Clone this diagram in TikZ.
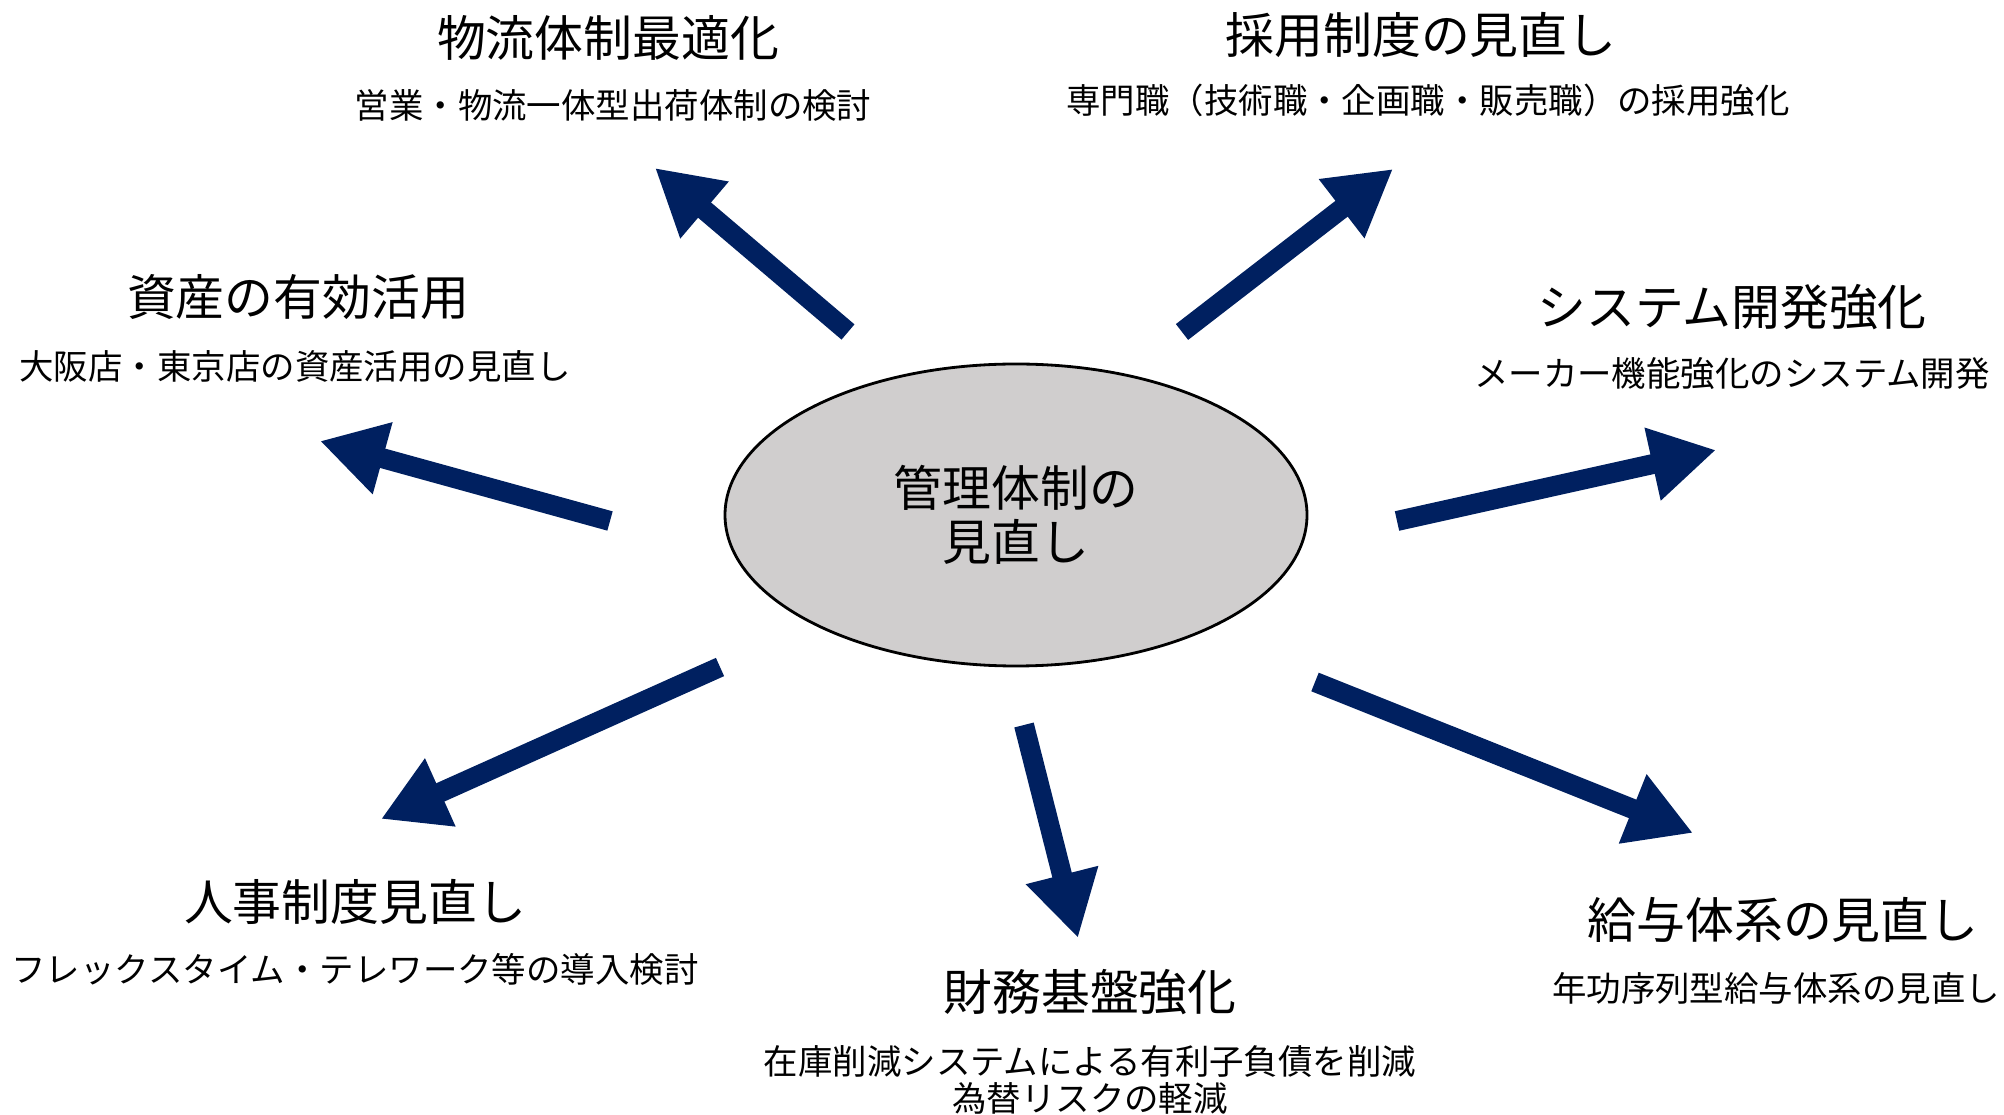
\documentclass[tikz,border=0pt]{standalone}
\usepackage{fontspec}
\setmainfont{Noto Sans CJK JP}
\usepackage{tikz}
\usetikzlibrary{positioning,calc,arrows.meta,shapes.geometric}
\definecolor{navyblue}{RGB}{0,32,96}
\definecolor{ovalgray}{RGB}{208,206,206}

\begin{document}
\begin{tikzpicture}[>={Triangle[length=6.5mm,width=7mm]},
                title node/.style={inner sep=0pt,font=\fontsize{13.9}{16}\selectfont},
                sub node/.style={inner sep=0pt,align=center,font=\fontsize{9.8}{10.5}\selectfont},
                main node/.style={ellipse,draw,fill=ovalgray,line width=0.8pt,minimum width=5.82cm,
                                  minimum height=3.02cm,inner sep=0pt,align=center,
                                  font=\fontsize{13.9}{15.4}\selectfont},
                big arrow/.style={->,color=navyblue,line width=2mm}]
\useasboundingbox (0,0) rectangle (20.04,11.14);
%Nodes
    \node[main node] (M) at (10.16,5.99) {管理体制の\\見直し};

    \node[title node] (T1) at (6.08,10.76) {物流体制最適化};
    \node[sub node]   (S1) at (6.13,10.09) {営業・物流一体型出荷体制の検討};
    \node[title node] (T2) at (14.21,10.79) {採用制度の見直し};
    \node[sub node]   (S2) at (14.28,10.14) {専門職（技術職・企画職・販売職）の採用強化};
    \node[title node] (T3) at (2.98,8.17) {資産の有効活用};
    \node[sub node]   (S3) at (2.95,7.48) {大阪店・東京店の資産活用の見直し};
    \node[title node] (T4) at (17.32,8.07) {システム開発強化};
    \node[sub node]   (S4) at (17.32,7.40) {メーカー機能強化のシステム開発};
    \node[title node] (T5) at (3.55,2.12) {人事制度見直し};
    \node[sub node]   (S5) at (3.55,1.45) {フレックスタイム・テレワーク等の導入検討};
    \node[title node] (T6) at (10.90,1.22) {財務基盤強化};
    \node[sub node]   (S6) at (10.90,0.34) {在庫削減システムによる有利子負債を削減\\為替リスクの軽減};
    \node[title node] (T7) at (17.83,1.94) {給与体系の見直し};
    \node[sub node]   (S7) at (17.76,1.26) {年功序列型給与体系の見直し};

%Arrow ends
    \coordinate (A1) at (8.48,7.82);   \coordinate (B1) at (6.55,9.46);
    \coordinate (A2) at (11.82,7.82);  \coordinate (B2) at (13.93,9.45);
    \coordinate (A3) at (6.10,5.93);   \coordinate (B3) at (3.20,6.73);
    \coordinate (A4) at (13.97,5.93);  \coordinate (B4) at (17.16,6.64);
    \coordinate (A5) at (7.20,4.47);   \coordinate (B5) at (3.81,2.95);
    \coordinate (A6) at (10.24,3.89);  \coordinate (B6) at (10.78,1.76);
    \coordinate (A7) at (13.15,4.32);  \coordinate (B7) at (16.93,2.81);

    \draw[big arrow] (A1) -- (B1);
    \draw[big arrow] (A2) -- (B2);
    \draw[big arrow] (A3) -- (B3);
    \draw[big arrow] (A4) -- (B4);
    \draw[big arrow] (A5) -- (B5);
    \draw[big arrow] (A6) -- (B6);
    \draw[big arrow] (A7) -- (B7);
\end{tikzpicture}
\end{document}
